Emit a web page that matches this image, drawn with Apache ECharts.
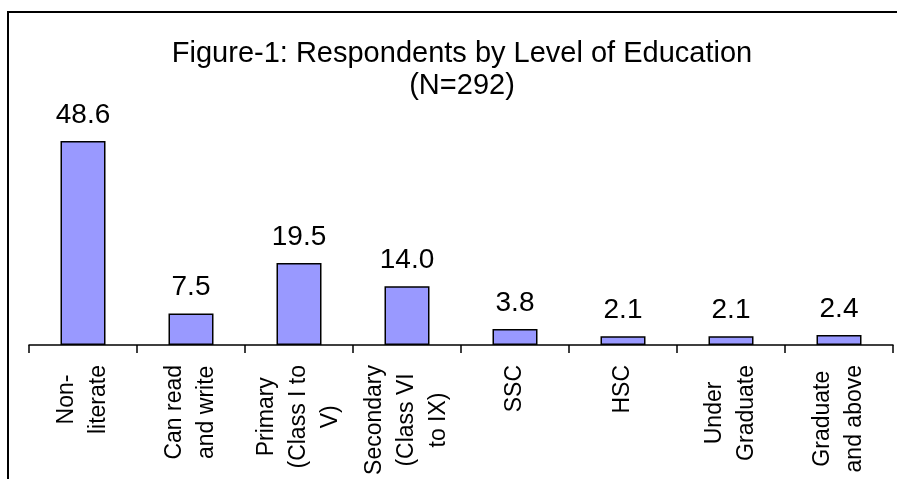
<!DOCTYPE html>
<html>
<head>
<meta charset="utf-8">
<script src="https://cdn.jsdelivr.net/npm/echarts@6/dist/echarts.min.js"></script>
<style>
  html, body { margin: 0; padding: 0; background: #fff; }
  #chart { width: 897px; height: 479px; }
</style>
</head>
<body>
<div id="chart"></div>
<script>
const categories = [
  'Non-\nliterate',
  'Can read\nand write',
  'Primary\n(Class I to\nV)',
  'Secondary\n(Class VI\nto IX)',
  'SSC',
  'HSC',
  'Under\nGraduate',
  'Graduate\nand above'
]
const percents = [48.6, 7.5, 19.5, 14.0, 3.8, 2.1, 2.1, 2.4]

const font = 'Arial, "Liberation Sans", sans-serif'

const chart = echarts.init(document.getElementById('chart'))

const option = {
  backgroundColor: '#fff',
  animation: false,
  title: {
    text: 'Figure-1: Respondents by Level of Education\n(N=292)',
    left: 462,
    top: 38,
    textAlign: 'center',
    padding: 0,
    textStyle: {
      fontFamily: font,
      fontSize: 29,
      fontWeight: 'normal',
      color: '#000',
      lineHeight: 32
    }
  },
  graphic: [
    {
      type: 'rect',
      shape: { x: 8, y: 12, width: 1000, height: 1000 },
      style: { fill: 'none', stroke: '#000', lineWidth: 2 },
      silent: true
    }
  ],
  grid: { left: 29, right: 4, top: 135, bottom: 134, outerBoundsMode: 'none' },
  xAxis: {
    type: 'category',
    data: categories,
    axisLine: { lineStyle: { color: '#000', width: 1.5 } },
    axisTick: { show: true, length: 8, lineStyle: { color: '#000', width: 1.5 } },
    axisLabel: {
      rotate: 90,
      margin: 20,
      interval: 0,
      color: '#000',
      fontFamily: font,
      fontSize: 23,
      lineHeight: 32,
      // centre the lines of each label on one another
      formatter: v => v.split('\n').map(l => '{c|' + l + '}').join('\n'),
      rich: {
        c: { align: 'center', fontFamily: font, fontSize: 23, lineHeight: 32, color: '#000' }
      }
    }
  },
  yAxis: {
    type: 'value',
    min: 0,
    max: 50,
    show: false
  },
  series: [
    {
      type: 'bar',
      data: percents,
      barWidth: 45,
      itemStyle: { color: '#9999ff', borderColor: '#000', borderWidth: 1.5 },
      label: {
        show: true,
        position: 'top',
        distance: 12,
        color: '#000',
        fontFamily: font,
        fontSize: 28,
        formatter: p => p.value.toFixed(1)
      }
    }
  ]
}

chart.setOption(option)
</script>
</body>
</html>
